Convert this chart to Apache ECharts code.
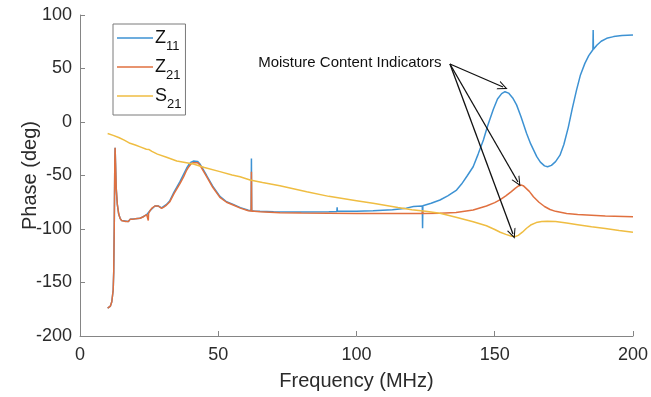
<!DOCTYPE html>
<html>
<head>
<meta charset="utf-8">
<script src="https://cdn.jsdelivr.net/npm/echarts@6/dist/echarts.min.js"></script>
<style>html,body{margin:0;padding:0;background:#fff}#c{width:651px;height:397px}</style>
</head>
<body>
<div id="c"></div>
<script>
// ---- data (frequency MHz, phase deg) ----
const seriesNames = ['Z11', 'Z21', 'S21'];
const xTicks = [0, 50, 100, 150, 200];
const yTicks = [-200, -150, -100, -50, 0, 50, 100];

const z21 = [[10,-174],[11,-172],[11.5,-168],[12,-157],[12.2,-140],[12.4,-95],[12.6,-35],[12.7,-24],[12.85,-38],[13.1,-62],[13.5,-77],[14,-86],[14.5,-90],[15,-92],[15.7,-93],[16.5,-93],[17.5,-93],[18.1,-91],[19,-91],[20,-90.5],[21.7,-90],[23,-88.5],[24.1,-86.6],[24.6,-86],[24.7,-92],[24.8,-85.5],[25.3,-83],[26,-80.5],[27.1,-78.5],[28.3,-78.5],[29.5,-80.7],[30.3,-79.5],[31.3,-77.6],[32.5,-74.5],[34,-67],[36.2,-57.3],[37.5,-51],[38.6,-44.9],[39.3,-42],[40.2,-39],[41,-38],[41.5,-37.6],[42.5,-38],[43.3,-40],[44,-43],[45.8,-51],[48,-61],[50.6,-70.4],[53,-75],[55.4,-77.6],[58,-80.5],[60.9,-82.9],[61.9,-83.3],[62.0,-46.5],[62.1,-83.5],[63,-83.5],[65.1,-83.8],[72.3,-84.7],[80,-85],[90,-85.3],[100,-85.5],[110,-85.5],[120,-85.5],[123.8,-85.5],[123.9,-83],[124.0,-85.5],[130.2,-85.3],[136,-84.5],[142.2,-82.2],[147,-78.5],[150,-75.3],[152,-72.5],[154,-69],[156,-65],[157.5,-61.8],[158.6,-59.8],[159.5,-58.9],[160.3,-59.5],[161,-60.8],[162.5,-64.8],[164,-69.8],[166,-75],[168,-79],[170,-81.8],[172,-83.5],[176,-85.5],[180,-86.5],[190,-87.8],[200,-88.5]];

const z11 = [[10,-174],[11,-172],[11.5,-168],[12,-157],[12.2,-140],[12.4,-95],[12.6,-35],[12.7,-24],[12.85,-38],[13.1,-62],[13.5,-77],[14,-86],[14.5,-90],[15,-92],[15.7,-93],[17.5,-93],[18.1,-91],[20,-90.5],[21.7,-90],[24.1,-86.6],[25.3,-83],[27.1,-78.5],[28.3,-78.5],[29.5,-80.3],[31.3,-77],[32.5,-73.5],[34,-65.5],[36.2,-55.5],[38.6,-43],[39.3,-40],[40.2,-37.5],[41,-36.5],[41.5,-36.2],[42.5,-36.8],[43.3,-39],[44,-42],[45.8,-50],[48,-60],[50.6,-69.5],[53,-74.5],[55.4,-77],[58,-80],[60.9,-82.5],[61.9,-83],[62.0,-34],[62.1,-83],[63,-83.2],[65.1,-83.5],[70,-83.8],[80,-84],[90,-83.8],[92.9,-83.6],[93.0,-79.7],[93.1,-83.5],[100,-83.3],[106,-83],[113,-82],[118,-80.5],[120.6,-79],[123.8,-78.5],[123.9,-99.4],[124.0,-78.3],[127,-76],[130.2,-72.9],[133,-69],[136.2,-63.6],[138,-58],[140,-50.5],[142.2,-41.8],[144,-30],[145.9,-16.8],[147.5,-3],[149.5,12],[151,21.5],[152.5,26.5],[153.7,28.3],[155,27],[156.5,22.5],[157.9,16],[159.5,5],[161.5,-10.6],[163,-20.5],[165.2,-32.4],[166.5,-37.5],[168,-41],[169.1,-41.8],[170.5,-40.5],[172,-37],[173.6,-31],[175,-21],[176.6,-5],[178,12],[179.6,30],[181,44],[182.6,54.8],[184,62],[185.5,67.5],[185.6,86],[185.7,68],[187,72],[188.5,75.5],[190.5,78.2],[193,79.8],[196,80.8],[200,81.3]];

const s21 = [[10,-10.7],[12,-12.5],[14,-14.5],[16,-17],[18.1,-19.9],[20,-21.5],[22,-23.5],[24,-25.5],[24.7,-26.2],[25,-25.8],[26,-27.5],[28,-30],[31.3,-33],[35,-36.5],[41,-39.3],[45,-42.5],[50.6,-46.4],[55,-49.5],[57.9,-51.1],[61.5,-54.2],[66,-56.5],[72.3,-59.5],[82,-65.1],[90,-69.5],[100,-73.5],[106,-76],[115,-80],[120,-82],[125,-83.5],[130.2,-85.3],[136,-89],[142.2,-93.2],[147,-97],[150,-100.5],[152,-103],[154,-105],[156.1,-106.8],[157.5,-107],[158.5,-106],[160,-103],[161.5,-99.3],[163,-96.3],[165,-94],[167,-93],[169,-92.7],[172,-93],[176,-94.5],[180,-96],[185,-98],[190,-99.5],[195,-101.5],[200,-103]];

// annotation: text anchor and arrow tips (data coords)
const noteText = 'Moisture Content Indicators';
const noteAt = [97.6, 55.1];
const arrowFrom = [133.8, 54.2];
const arrowTips = [[153.0, 32.7], [158.4, -56.1], [156.6, -104.7]];

const colors = ['#3d92d3', '#e0703f', '#efbd42'];

const chart = echarts.init(document.getElementById('c'));
const axisColor = '#858585';
const textColor = '#2b2b2b';
const font = 'Liberation Sans, Arial, sans-serif';

const vee = 'path://M0,10 L5,0 L10,10 L8.8,10 L5,2.6 L1.2,10 Z';
const lineIcon = 'path://M0,0 L36,0 L36,1.5 L0,1.5 Z';

chart.setOption({
  animation: false,
  color: colors,
  grid: { left: 80, right: 18, top: 15, bottom: 61, containLabel: false },
  legend: {
    orient: 'vertical',
    left: 113, top: 24,
    padding: [5, 4, 4, 4],
    itemGap: 5,
    itemWidth: 36,
    itemHeight: 1.5,
    icon: lineIcon,
    borderColor: '#7a7a7a',
    borderWidth: 1,
    backgroundColor: '#fff',
    data: seriesNames,
    formatter: function (n) { return '{m|' + n.charAt(0) + '}{s|' + n.slice(1) + '}'; },
    textStyle: {
      fontFamily: font,
      color: '#111',
      padding: [0, 0, 0, -3],
      rich: {
        m: { fontSize: 18, lineHeight: 18, fontFamily: font, color: '#111', verticalAlign: 'top' },
        s: { fontSize: 13, lineHeight: 13, fontFamily: font, color: '#111', verticalAlign: 'top', padding: [11, 0, 0, 0] }
      }
    }
  },
  xAxis: {
    type: 'value', min: 0, max: 200, interval: 50,
    name: 'Frequency (MHz)', nameLocation: 'middle', nameGap: 35, nameMoveOverlap: false,
    nameTextStyle: { fontSize: 20, fontFamily: font, color: textColor },
    axisLine: { show: true, onZero: false, lineStyle: { color: axisColor, width: 1 } },
    axisTick: { show: true, inside: true, length: 5, lineStyle: { color: axisColor } },
    axisLabel: { fontSize: 18, fontFamily: font, color: textColor, margin: 10,
      formatter: v => xTicks.includes(v) ? String(v) : '' },
    splitLine: { show: false }
  },
  yAxis: {
    type: 'value', min: -200, max: 100, interval: 50,
    name: 'Phase (deg)', nameLocation: 'middle', nameGap: 40, nameRotate: 90, nameMoveOverlap: false,
    nameTextStyle: { fontSize: 20, fontFamily: font, color: textColor },
    axisLine: { show: true, onZero: false, lineStyle: { color: axisColor, width: 1 } },
    axisTick: { show: true, inside: true, length: 5, lineStyle: { color: axisColor } },
    axisLabel: { fontSize: 18, fontFamily: font, color: textColor, margin: 8,
      formatter: v => yTicks.includes(v) ? String(v) : '' },
    splitLine: { show: false }
  },
  series: [
    {
      name: 'Z11', type: 'line', data: z11, symbol: 'none', lineStyle: { width: 1.5 }, z: 2,
      markLine: {
        silent: true, symbol: ['none', vee], symbolSize: [9, 10],
        lineStyle: { color: '#111', width: 1.3, type: 'solid' },
        label: { show: false },
        data: arrowTips.map(t => [{ coord: arrowFrom }, { coord: t }])
      },
      markPoint: {
        silent: true, symbol: 'circle', symbolSize: 1,
        itemStyle: { color: 'rgba(0,0,0,0)' },
        label: { show: true, position: 'inside', formatter: noteText, fontSize: 15, fontFamily: font, color: '#111' },
        data: [{ coord: noteAt }]
      }
    },
    { name: 'Z21', type: 'line', data: z21, symbol: 'none', lineStyle: { width: 1.5 }, z: 3 },
    { name: 'S21', type: 'line', data: s21, symbol: 'none', lineStyle: { width: 1.5 }, z: 4 }
  ]
});
</script>
</body>
</html>
